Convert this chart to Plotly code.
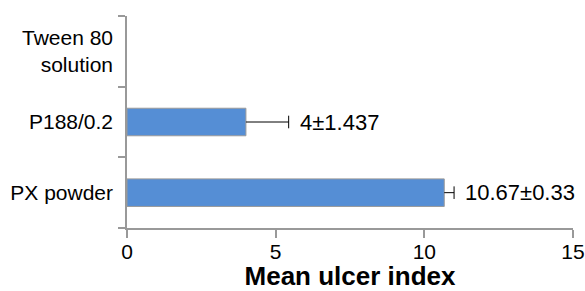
import plotly.graph_objects as go

categories = ["PX powder", "P188/0.2", "Tween 80<br>solution"]
values = [10.67, 4, None]
errors = [0.33, 1.437, None]
labels = ["10.67±0.33", "4±1.437", ""]
x_ticks = [0, 5, 10, 15]

fig = go.Figure()
fig.add_trace(go.Bar(
    y=categories, x=values, orientation="h",
    marker=dict(color="#558ED5", line=dict(color="#9A9A9A", width=1)),
))

# one-sided (plus) error bars
ex, ey = [], []
cx, cy = [], []
for c, v, e in zip(categories, values, errors):
    if v is None or e is None:
        continue
    ex += [v, v + e, None]
    ey += [c, c, None]
    cx.append(v + e)
    cy.append(c)
fig.add_trace(go.Scatter(x=ex, y=ey, mode="lines", line=dict(color="black", width=1),
                         hoverinfo="skip"))
fig.add_trace(go.Scatter(x=cx, y=cy, mode="markers",
                         marker=dict(symbol="line-ns-open", size=9, color="black",
                                     line=dict(color="black", width=1)),
                         hoverinfo="skip"))

for c, v, e, t in zip(categories, values, errors, labels):
    if v is None or not t:
        continue
    fig.add_annotation(x=v + e, y=c, text=t, showarrow=False, xanchor="left",
                       xshift=9, font=dict(size=22, color="black"))

fig.update_layout(
    width=585, height=291,
    margin=dict(l=127, r=12, t=16, b=63),
    paper_bgcolor="white", plot_bgcolor="white",
    font=dict(family="Liberation Sans, Arial, sans-serif", size=21, color="black"),
    bargap=0.61, showlegend=False,
)
fig.update_xaxes(
    range=[0, 15], tickvals=x_ticks, ticktext=[str(v) for v in x_ticks],
    showline=True, linecolor="#999999", linewidth=1.5,
    ticks="outside", ticklen=8, tickcolor="#999999", tickwidth=1.5,
    showgrid=False, zeroline=False, automargin=False, ticklabelstandoff=-4,
    title=dict(text="<b>Mean ulcer index</b>", font=dict(size=26), standoff=6),
)
fig.update_yaxes(
    range=[-0.5, 2.5], showline=True, linecolor="#999999", linewidth=1.5,
    ticks="outside", ticklen=7, tickcolor="#999999", tickwidth=1.5,
    tickson="boundaries", showgrid=False, zeroline=False, automargin=False,
    ticklabelstandoff=8,
)

fig.write_html("out.html", config={"displayModeBar": False},
               post_script="document.body.style.margin='0';document.body.style.padding='0';")
